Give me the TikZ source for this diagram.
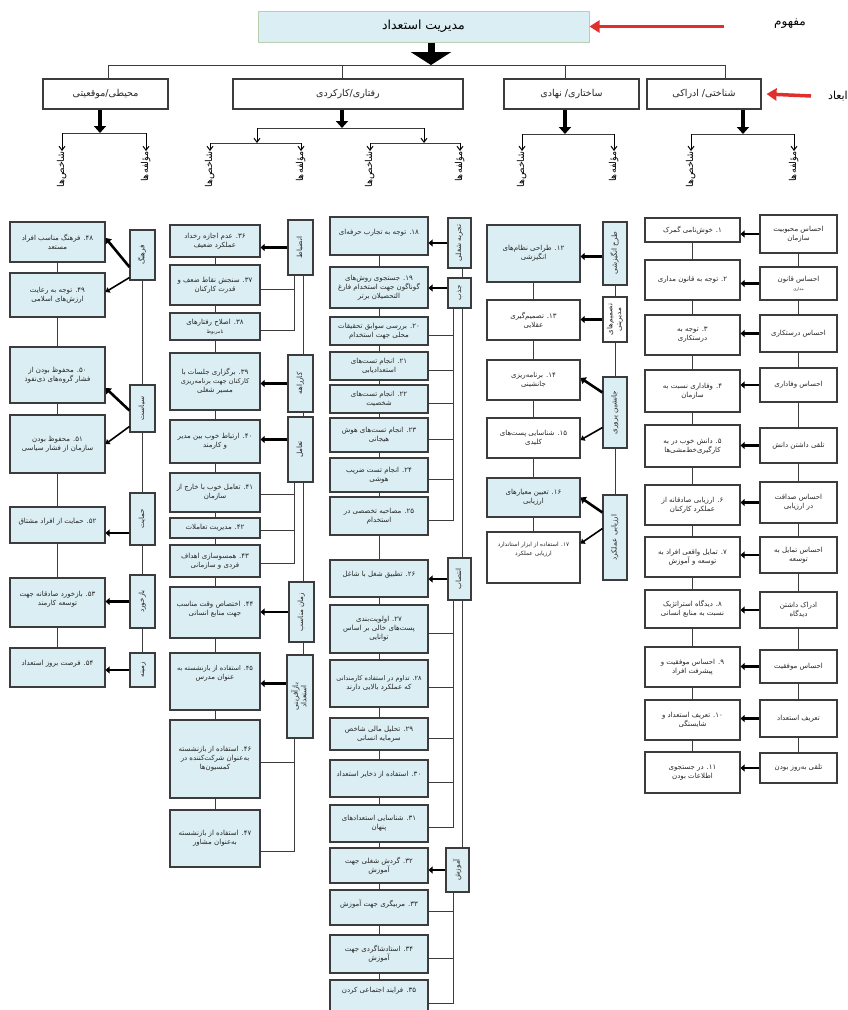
\documentclass[tikz,border=0pt]{standalone}
\usepackage{fontspec}
\usepackage{graphicx}
\usetikzlibrary{arrows.meta,calc}
\TeXXeTstate=1
\newfontfamily\fa[Script=Arabic]{DejaVu Sans}
\newcommand\R[1]{\beginR #1\endR}
\newcommand\rot[1]{\rotatebox{90}{\begin{tabular}{@{}c@{}}#1\end{tabular}}}
\newcommand\fsz{\fa\fontsize{7}{9}\selectfont}
\newcommand\csz{\fa\fontsize{7.2}{8.6}\selectfont}
\definecolor{lb}{HTML}{DBEEF3}
\definecolor{bord}{HTML}{3C3C3C}
\definecolor{tbord}{HTML}{B8CFB4}
\definecolor{redc}{HTML}{E0302D}
\tikzset{
  bx/.style={draw=bord, line width=1.1pt, align=center, inner sep=1pt, font=\fsz, text=black!85},
  ln/.style={draw=bord, line width=1pt},
  harr/.style={line width=2.2pt, -{Triangle[length=4pt,width=7pt]}},
  darr/.style={line width=2.6pt, -{Triangle[length=5pt,width=8pt]}},
  darrthin/.style={line width=1.6pt, -{Triangle[length=4pt,width=6pt]}},
  fat/.style={line width=7pt, -{Triangle[length=13pt,width=40pt]}},
  fattwo/.style={line width=4.5pt, -{Triangle[length=7pt,width=12pt]}},
  sarr/.style={line width=1pt, -{Straight Barb[length=4pt,width=6pt]}},
  redarr/.style={draw=redc, line width=3.5pt, -{Triangle[length=10pt,width=12pt]}},
  lab/.style={font=\fa\fontsize{9.5}{11}\selectfont, inner sep=0pt, anchor=north},
  dimf/.style={font=\fa\fontsize{9.5}{11}\selectfont},
}
\newcommand\bx[7]{%
  \pgfmathsetmacro\mybw{#4-(#2)}\pgfmathsetmacro\mybh{#5-(#3)}%
  \pgfmathsetmacro\mycx{(#2+#4)/2}\pgfmathsetmacro\mycy{(#3+#5)/2}%
  \node[bx,fill=#6,minimum width=\mybw pt,minimum height=\mybh pt] (#1) at (\mycx,\mycy) {#7};}
\newcommand\ct[7]{%
  \pgfmathsetmacro\mybw{#4-(#2)}\pgfmathsetmacro\mybh{#5-(#3)}%
  \pgfmathsetmacro\mycx{(#2+#4)/2}\pgfmathsetmacro\mycy{(#3+#5)/2}%
  \node[bx,font=\csz,fill=#6,minimum width=\mybw pt,minimum height=\mybh pt] (#1) at (\mycx,\mycy) {\rot{#7}};}
\begin{document}
\begin{tikzpicture}[x=1pt,y=-1pt]
\useasboundingbox (0,0) rectangle (848,1010);
\fill[white] (0,0) rectangle (848,1010);
% ---------- header ----------
\node[draw=tbord, line width=1pt, fill=lb, minimum width=331pt, minimum height=31pt, font=\fa\fontsize{12.5}{14}\selectfont] (title) at (423.5,26.5) {\R{مدیریت استعداد}};
\node[font=\fa\fontsize{12}{14}\selectfont] (mafhoum) at (790,24) {\R{مفهوم}};
\coordinate (ra) at (724,26.5);
\draw[redarr] (ra) -- (title.east);
\bx{dim1}{43}{79}{168}{109}{white}{\fa\fontsize{9.5}{11}\selectfont\R{محیطی/موقعیتی}}
\bx{dim2}{233}{79}{463}{109}{white}{\fa\fontsize{9.5}{11}\selectfont\R{رفتاری/کارکردی}}
\bx{dim3}{504}{79}{639}{109}{white}{\fa\fontsize{9.5}{11}\selectfont\R{ساختاری/ نهادی}}
\bx{dim4}{647}{79}{761}{109}{white}{\fa\fontsize{9.5}{11}\selectfont\R{شناختی/ ادراکی}}
\node[font=\fa\fontsize{11}{13}\selectfont, anchor=east, inner sep=0pt] (abaad) at (848,96) {\R{ابعاد}};
\coordinate (rb) at (811,96);
\draw[redarr] (rb) -- ([xshift=5pt]dim4.east);
\coordinate (tA) at (431,65);
\draw[fat] (title.south -| tA) -- (tA);
\coordinate (bL) at (108,65); \coordinate (bM) at (342,65); \coordinate (bN) at (565,65); \coordinate (bR) at (725,65);
\draw[ln] (bL) -- (bR);
\draw[ln] (bL) -- (bL |- dim1.north);
\draw[ln] (bM) -- (bM |- dim2.north);
\draw[ln] (bN) -- (bN |- dim3.north);
\draw[ln] (bR) -- (bR |- dim4.north);
% sub arrows
\coordinate (d1) at (100,133); \coordinate (d2) at (342,128); \coordinate (d3) at (565,134); \coordinate (d4) at (743,134);
\draw[fattwo] (dim1.south -| d1) -- (d1);
\draw[fattwo] (dim2.south -| d2) -- (d2);
\draw[fattwo] (dim3.south -| d3) -- (d3);
\draw[fattwo] (dim4.south -| d4) -- (d4);
\node[lab] (l1a) at (62,151) {\rot{\R{شاخص‌ها}}};
\node[lab] (l1b) at (146,151) {\rot{\R{مؤلفه‌ها}}};
\node[lab] (l2a) at (210,151) {\rot{\R{شاخص‌ها}}};
\node[lab] (l2b) at (301,151) {\rot{\R{مؤلفه‌ها}}};
\node[lab] (l2c) at (370,151) {\rot{\R{شاخص‌ها}}};
\node[lab] (l2d) at (460,151) {\rot{\R{مؤلفه‌ها}}};
\node[lab] (l3a) at (522,151) {\rot{\R{شاخص‌ها}}};
\node[lab] (l3b) at (614,151) {\rot{\R{مؤلفه‌ها}}};
\node[lab] (l4a) at (691,151) {\rot{\R{شاخص‌ها}}};
\node[lab] (l4b) at (794,151) {\rot{\R{مؤلفه‌ها}}};
\coordinate (e1a) at (62,133); \coordinate (e1b) at (146,133);
\draw[ln] (e1a) -- (e1b);
\draw[sarr] (e1a) -- (l1a.north); \draw[sarr] (e1b) -- (l1b.north);
\coordinate (e2a) at (257,128); \coordinate (e2b) at (424,128);
\draw[ln] (e2a) -- (e2b);
\coordinate (g2a) at (210,143); \coordinate (g2b) at (301,143); \coordinate (g2c) at (370,143); \coordinate (g2d) at (460,143);
\draw[ln] (g2a) -- (g2b); \draw[ln] (g2c) -- (g2d);
\draw[sarr] (e2a) -- (e2a |- g2a); \draw[sarr] (e2b) -- (e2b |- g2c);
\draw[sarr] (g2a) -- (l2a.north); \draw[sarr] (g2b) -- (l2b.north);
\draw[sarr] (g2c) -- (l2c.north); \draw[sarr] (g2d) -- (l2d.north);
\coordinate (e3a) at (522,134); \coordinate (e3b) at (614,134);
\draw[ln] (e3a) -- (e3b);
\draw[sarr] (e3a) -- (l3a.north); \draw[sarr] (e3b) -- (l3b.north);
\coordinate (e4a) at (691,134); \coordinate (e4b) at (794,134);
\draw[ln] (e4a) -- (e4b);
\draw[sarr] (e4a) -- (l4a.north); \draw[sarr] (e4b) -- (l4b.north);
% ---------- column 4: cognitive ----------
\bx{c1}{760}{215}{837}{253}{white}{\R{احساس محبوبیت}\\\R{سازمان}}
\bx{c2}{760}{267}{837}{300}{white}{\R{احساس قانون}\\{\fontsize{4}{5}\selectfont\R{مداری}}}
\bx{c3}{760}{315}{837}{352}{white}{\R{احساس درستکاری}}
\bx{c4}{760}{368}{837}{402}{white}{\R{احساس وفاداری}}
\bx{c5}{760}{428}{837}{463}{white}{\R{تلقی داشتن دانش}}
\bx{c6}{760}{482}{837}{523}{white}{\R{احساس صداقت}\\\R{در ارزیابی}}
\bx{c7}{760}{537}{837}{573}{white}{\R{احساس تمایل به}\\\R{توسعه}}
\bx{c8}{760}{592}{837}{628}{white}{\R{ادراک داشتن}\\\R{دیدگاه}}
\bx{c9}{760}{650}{837}{683}{white}{\R{احساس موفقیت}}
\bx{c10}{760}{700}{837}{737}{white}{\R{تعریف استعداد}}
\bx{c11}{760}{753}{837}{783}{white}{\R{تلقی به‌روز بودن}}
\bx{s1}{645}{218}{740}{242}{white}{\R{۱. خوش‌نامی گمرک}}
\bx{s2}{645}{260}{740}{300}{white}{\R{۲. توجه به قانون مداری}}
\bx{s3}{645}{315}{740}{355}{white}{\R{۳. توجه به}\\\R{درستکاری}}
\bx{s4}{645}{370}{740}{412}{white}{\R{۴. وفاداری نسبت به}\\\R{سازمان}}
\bx{s5}{645}{425}{740}{467}{white}{\R{۵. دانش خوب در به}\\\R{کارگیری‌خط‌مشی‌ها}}
\bx{s6}{645}{485}{740}{525}{white}{\R{۶. ارزیابی صادقانه از}\\\R{عملکرد کارکنان}}
\bx{s7}{645}{537}{740}{577}{white}{\R{۷. تمایل واقعی افراد به}\\\R{توسعه و آموزش}}
\bx{s8}{645}{590}{740}{628}{white}{\R{۸. دیدگاه استراتژیک}\\\R{نسبت به منابع انسانی}}
\bx{s9}{645}{647}{740}{687}{white}{\R{۹. احساس موفقیت و}\\\R{پیشرفت افراد}}
\bx{s10}{645}{700}{740}{740}{white}{\R{۱۰. تعریف استعداد و}\\\R{شایستگی}}
\bx{s11}{645}{752}{740}{793}{white}{\R{۱۱. در جستجوی}\\\R{اطلاعات بودن}}
\foreach \i [evaluate=\i as \j using int(\i+1)] in {1,...,10} {
  \draw[ln] (c\i.south) -- (c\j.north);
  \draw[ln] (s\i.south) -- (s\j.north);
}
\foreach \i in {1,...,11} {\draw[harr] (c\i.west) -- (c\i.west -| s\i.east);}
% ---------- column 3: structural ----------
\ct{k1}{603}{222}{627}{285}{lb}{\R{طرح انگیزشی}}
\ct{k2}{603}{297}{627}{342}{white}{\R{تصمیم‌های}\\\R{مدیریتی}}
\ct{k3}{603}{377}{627}{448}{lb}{\R{جانشین پروری}}
\ct{k4}{603}{495}{627}{580}{lb}{\R{ارزیابی عملکرد}}
\draw[ln] (k1.south) -- (k2.north);
\draw[ln] (k2.south) -- (k3.north);
\draw[ln] (k3.south) -- (k4.north);
\bx{b12}{487}{225}{580}{282}{lb}{\R{۱۲. طراحی نظام‌های}\\\R{انگیزشی}}
\bx{b13}{487}{300}{580}{340}{white}{\R{۱۳. تصمیم‌گیری}\\\R{عقلایی}}
\bx{b14}{487}{360}{580}{400}{white}{\R{۱۴. برنامه‌ریزی}\\\R{جانشینی}}
\bx{b15}{487}{418}{580}{458}{white}{\R{۱۵. شناسایی پست‌های}\\\R{کلیدی}}
\bx{b16}{487}{478}{580}{517}{lb}{\R{۱۶. تعیین معیارهای}\\\R{ارزیابی}}
\bx{b17}{487}{532}{580}{583}{white}{{\fontsize{5.8}{7}\selectfont\R{۱۷. استفاده از ابزار استاندارد}}\\{\fontsize{5.8}{7}\selectfont\R{ارزیابی عملکرد}}\\~\\~}
\foreach \i [evaluate=\i as \j using int(\i+1)] in {12,...,16} {\draw[ln] (b\i.south) -- (b\j.north);}
\draw[harr] ([yshift=-3pt]k1.west) -- ([yshift=-3pt]k1.west -| b12.east);
\draw[harr] (k2.west) -- (k2.west -| b13.east);
\draw[darr] ([yshift=20pt]k3.west) -- ([yshift=2pt]b14.east);
\draw[darrthin] ([yshift=-15pt]k3.west) -- ([yshift=-2pt]b15.east);
\draw[darr] ([yshift=25pt]k4.west) -- (b16.east);
\draw[darrthin] ([yshift=9pt]k4.west) -- ([yshift=14pt]b17.east);
% ---------- column 2b: behavioural (right half) ----------
\ct{r1}{448}{218}{471}{268}{lb}{\R{تجربه شغلی}}
\ct{r2}{448}{278}{471}{308}{lb}{\R{جذب}}
\ct{r3}{448}{558}{471}{600}{lb}{\R{انتصاب}}
\ct{r4}{446}{848}{469}{892}{lb}{\R{آموزش}}
\coordinate (spA) at (462,0); \coordinate (brA) at (453,0);
\draw[ln] (r1.south -| spA) -- (r2.north -| spA);
\draw[ln] (r2.south -| spA) -- (r3.north -| spA);
\draw[ln] (r3.south -| spA) -- (r4.north -| spA);
\bx{b18}{330}{217}{428}{255}{lb}{\R{۱۸. توجه به تجارب حرفه‌ای}\\~}
\bx{b19}{330}{267}{428}{308}{lb}{\R{۱۹. جستجوی روش‌های}\\\R{گوناگون جهت استخدام فارغ}\\\R{التحصیلان برتر}}
\bx{b20}{330}{317}{428}{345}{lb}{\R{۲۰. بررسی سوابق تحقیقات}\\\R{محلی جهت استخدام}}
\bx{b21}{330}{352}{428}{380}{lb}{\R{۲۱. انجام تست‌های}\\\R{استعدادیابی}}
\bx{b22}{330}{385}{428}{413}{lb}{\R{۲۲. انجام تست‌های}\\\R{شخصیت}}
\bx{b23}{330}{418}{428}{452}{lb}{\R{۲۳. انجام تست‌های هوش}\\\R{هیجانی}}
\bx{b24}{330}{458}{428}{492}{lb}{\R{۲۴. انجام تست ضریب}\\\R{هوشی}}
\bx{b25}{330}{497}{428}{535}{lb}{\R{۲۵. مصاحبه تخصصی در}\\\R{استخدام}}
\bx{b26}{330}{560}{428}{597}{lb}{\R{۲۶. تطبیق شغل با شاغل}\\~}
\bx{b27}{330}{605}{428}{653}{lb}{\R{۲۷. اولویت‌بندی}\\\R{پست‌های خالی بر اساس}\\\R{توانایی}}
\bx{b28}{330}{660}{428}{707}{lb}{{\fontsize{6.5}{9}\selectfont\R{۲۸. تداوم در استفاده کارمندانی}}\\\R{که عملکرد بالایی دارند}}
\bx{b29}{330}{718}{428}{750}{lb}{\R{۲۹. تحلیل مالی شاخص}\\\R{سرمایه انسانی}}
\bx{b30}{330}{760}{428}{797}{lb}{\R{۳۰. استفاده از ذخایر استعداد}\\~}
\bx{b31}{330}{805}{428}{842}{lb}{\R{۳۱. شناسایی استعدادهای}\\\R{پنهان}}
\bx{b32}{330}{848}{428}{883}{lb}{\R{۳۲. گردش شغلی جهت}\\\R{آموزش}}
\bx{b33}{330}{890}{428}{925}{lb}{\R{۳۳. مربیگری جهت آموزش}\\~}
\bx{b34}{330}{935}{428}{973}{lb}{\R{۳۴. استادشاگردی جهت}\\\R{آموزش}}
\bx{b35}{330}{980}{428}{1018}{lb}{\R{۳۵. فرایند اجتماعی کردن}\\~\\~}
\foreach \i [evaluate=\i as \j using int(\i+1)] in {18,...,34} {\draw[ln] (b\i.south) -- (b\j.north);}
\foreach \i in {20,...,25} {\draw[ln] ([yshift=-4pt]b\i.east) -| (r2.south -| brA);}
\foreach \i in {27,...,31} {\draw[ln] ([yshift=-4pt]b\i.east) -| (r3.south -| brA);}
\foreach \i in {33,34,35} {\draw[ln] ([yshift=-4pt]b\i.east) -| (r4.south -| brA);}
\draw[harr] (r1.west) -- (r1.west -| b18.east);
\draw[harr] ([yshift=5pt]r2.west) -- ([yshift=5pt]r2.west -| b19.east);
\draw[harr] (r3.west) -- (r3.west -| b26.east);
\draw[harr] (r4.west) -- (r4.west -| b32.east);
% ---------- column 2a: behavioural (left half) ----------
\ct{q1}{288}{220}{313}{275}{lb}{\R{انضباط}}
\ct{q2}{288}{355}{313}{412}{lb}{\R{کارراهه}}
\ct{q3}{288}{417}{313}{482}{lb}{\R{تعامل}}
\ct{q4}{289}{582}{314}{642}{lb}{\R{زمان مناسب}}
\ct{q5}{287}{655}{313}{738}{lb}{\R{بازآفرینی}\\\R{استعداد}}
\coordinate (spB) at (303,0); \coordinate (brB) at (294,0);
\draw[ln] (q1.south -| spB) -- (q2.north -| spB);
\draw[ln] (q2.south -| spB) -- (q3.north -| spB);
\draw[ln] (q3.south -| spB) -- (q4.north -| spB);
\draw[ln] (q4.south -| spB) -- (q5.north -| spB);
\bx{b36}{170}{225}{260}{257}{lb}{\R{۳۶. عدم اجازه رخداد}\\\R{عملکرد ضعیف}}
\bx{b37}{170}{265}{260}{305}{lb}{\R{۳۷. سنجش نقاط ضعف و}\\\R{قدرت کارکنان}}
\bx{b38}{170}{313}{260}{340}{lb}{\R{۳۸. اصلاح رفتارهای}\\{\fontsize{5}{6}\selectfont\R{نامربوط}}}
\bx{b39}{170}{353}{260}{410}{lb}{\R{۳۹. برگزاری جلسات با}\\{\fontsize{6.6}{9}\selectfont\R{کارکنان جهت برنامه‌ریزی}}\\\R{مسیر شغلی}}
\bx{b40}{170}{420}{260}{463}{lb}{\R{۴۰. ارتباط خوب بین مدیر}\\\R{و کارمند}}
\bx{b41}{170}{473}{260}{512}{lb}{\R{۴۱. تعامل خوب با خارج از}\\\R{سازمان}}
\bx{b42}{170}{518}{260}{538}{lb}{\R{۴۲. مدیریت تعاملات}}
\bx{b43}{170}{545}{260}{577}{lb}{\R{۴۳. همسوسازی اهداف}\\\R{فردی و سازمانی}}
\bx{b44}{170}{587}{260}{638}{lb}{\R{۴۴. اختصاص وقت مناسب}\\\R{جهت منابع انسانی}\\~}
\bx{b45}{170}{653}{260}{710}{lb}{{\fontsize{6.6}{9}\selectfont\R{۴۵. استفاده از بازنشسته به}}\\\R{عنوان مدرس}\\~\\~}
\bx{b46}{170}{720}{260}{798}{lb}{\R{۴۶. استفاده از بازنشسته}\\\R{به‌عنوان شرکت‌کننده در}\\\R{کمسیون‌ها}}
\bx{b47}{170}{810}{260}{867}{lb}{\R{۴۷. استفاده از بازنشسته}\\\R{به‌عنوان مشاور}}
\foreach \i [evaluate=\i as \j using int(\i+1)] in {36,...,46} {\draw[ln] (b\i.south) -- (b\j.north);}
\foreach \i in {37,38} {\draw[ln] ([yshift=-4pt]b\i.east) -| (q1.south -| brB);}
\foreach \i in {41,42,43} {\draw[ln] ([yshift=-2pt]b\i.east) -| (q3.south -| brB);}
\draw[ln] ([yshift=-3pt]b46.east) -| (q5.south -| brB);
\draw[ln] ([yshift=-13pt]b47.east) -| (q5.south -| brB);
\draw[harr] (q1.west) -- (q1.west -| b36.east);
\draw[harr] (q2.west) -- (q2.west -| b39.east);
\draw[harr] ([yshift=10pt]q3.west) -- ([yshift=10pt]q3.west -| b40.east);
\draw[harr] (q4.west) -- (q4.west -| b44.east);
\draw[harr] ([yshift=13pt]q5.west) -- ([yshift=13pt]q5.west -| b45.east);
% ---------- column 1: environmental ----------
\ct{m1}{130}{230}{155}{280}{lb}{\R{فرهنگ}}
\ct{m2}{130}{385}{155}{432}{lb}{\R{سیاست}}
\ct{m3}{130}{493}{155}{545}{lb}{\R{حمایت}}
\ct{m4}{130}{575}{155}{628}{lb}{\R{بازخورد}}
\ct{m5}{130}{653}{155}{687}{lb}{\R{زمینه}}
\draw[ln] (m1.south) -- (m2.north);
\draw[ln] (m2.south) -- (m3.north);
\draw[ln] (m3.south) -- (m4.north);
\draw[ln] (m4.south) -- (m5.north);
\bx{b48}{10}{222}{105}{262}{lb}{\R{۴۸. فرهنگ مناسب افراد}\\\R{مستعد}}
\bx{b49}{10}{273}{105}{317}{lb}{\R{۴۹. توجه به رعایت}\\\R{ارزش‌های اسلامی}}
\bx{b50}{10}{347}{105}{403}{lb}{\R{۵۰. محفوظ بودن از}\\\R{فشار گروه‌های ذی‌نفوذ}}
\bx{b51}{10}{415}{105}{473}{lb}{\R{۵۱. محفوظ بودن}\\\R{سازمان از فشار سیاسی}}
\bx{b52}{10}{507}{105}{543}{lb}{\R{۵۲. حمایت از افراد مشتاق}\\~}
\bx{b53}{10}{578}{105}{627}{lb}{\R{۵۳. بازخورد صادقانه جهت}\\\R{توسعه کارمند}\\~}
\bx{b54}{10}{648}{105}{687}{lb}{\R{۵۴. فرصت بروز استعداد}\\~}
\foreach \i [evaluate=\i as \j using int(\i+1)] in {48,...,53} {\draw[ln] (b\i.south) -- (b\j.north);}
\draw[darr] ([yshift=-12pt]m1.west) -- ([yshift=4pt]b48.east);
\draw[darrthin] ([yshift=3pt]m1.south west) -- ([yshift=3pt]b49.east);
\draw[darr] ([yshift=-2pt]m2.west) -- ([yshift=-13pt]b50.east);
\draw[darrthin] ([yshift=-18pt]m2.west) -- (b51.east);
\draw[harr] ([yshift=-14pt]m3.west) -- ([yshift=-14pt]m3.west -| b52.east);
\draw[harr] (m4.west) -- (m4.west -| b53.east);
\draw[harr] (m5.west) -- (m5.west -| b54.east);
\end{tikzpicture}
\end{document}
